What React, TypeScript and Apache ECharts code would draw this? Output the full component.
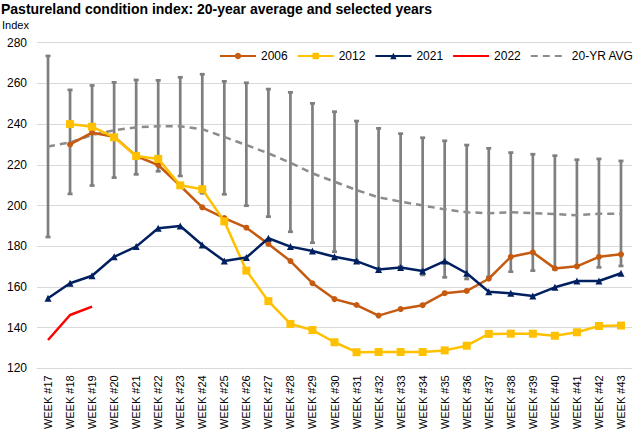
import React, { useEffect, useRef } from "react";
import * as echarts from "echarts";

const weeks = [
  "WEEK #17", "WEEK #18", "WEEK #19", "WEEK #20", "WEEK #21", "WEEK #22", "WEEK #23",
  "WEEK #24", "WEEK #25", "WEEK #26", "WEEK #27", "WEEK #28", "WEEK #29", "WEEK #30",
  "WEEK #31", "WEEK #32", "WEEK #33", "WEEK #34", "WEEK #35", "WEEK #36", "WEEK #37",
  "WEEK #38", "WEEK #39", "WEEK #40", "WEEK #41", "WEEK #42", "WEEK #43",
];

const avg20 = [229, 231, 234.6, 237, 238.4, 239, 238.9, 237.5, 233.7, 229.7, 225.6, 221, 215.8, 211.7, 207.6, 204, 201.9, 200, 198.1, 196.7, 196.2, 196.7, 196.3, 195.8, 195.2, 196, 196];
const rangeHigh = [273.5, 256.8, 259, 260.5, 261.7, 261.5, 263, 264.5, 261, 260.3, 257.2, 255.6, 250.2, 246.1, 241.5, 237.9, 235.3, 233.3, 231.8, 229.7, 228.1, 226, 225.2, 224.5, 222.5, 222.9, 221.9];
const rangeLow = [184.5, 205.7, 209.8, 213.7, 215.3, 216.8, 214.5, 206, 205.5, 199.9, 194.5, 187.1, 181.7, 177.3, 173, 169, 170, 165.9, 164.7, 163.9, 165, 167.5, 168, 168.6, 170.4, 169.6, 170.3];

const s2006 = [null, 230, 235.8, 233.8, 224.3, 219.9, 209.7, 199.1, 193.8, 189.1, 181.1, 172.7, 161.8, 154, 151.1, 145.9, 149.1, 151, 156.9, 158, 164, 174.8, 177, 169.1, 170.1, 174.8, 176];
const s2012 = [null, 240, 238.7, 233.5, 224.3, 222.9, 209.9, 208, 192.2, 168, 153, 141.8, 138.8, 132.8, 127.9, 128, 128, 128, 128.8, 131.1, 136.9, 137, 137, 136, 137.7, 140.8, 141];
const s2021 = [154.4, 161.8, 165.5, 174.8, 179.8, 188.8, 189.9, 180.6, 172.7, 174.4, 183.9, 179.8, 177.6, 174.8, 172.7, 168.6, 169.5, 167.8, 172.7, 166.7, 157.6, 156.9, 155.5, 159.8, 162.9, 162.9, 166.7];
const s2022 = [133.9, 146.2, 150.3];

const yMin = 120;
const yMax = 280;
const yStep = 20;

const FONT = "'Liberation Sans', Arial, sans-serif";

export default function App() {
  const ref = useRef<HTMLDivElement>(null);

  useEffect(() => {
    if (!ref.current) return;
    const chart = echarts.init(ref.current, null, { renderer: "svg" });
    const errData = weeks.map((_, i) => [i, rangeLow[i], rangeHigh[i]]);
    chart.setOption({
      animation: false,
      textStyle: { fontFamily: FONT },
      title: [
        {
          text: "Pastureland condition index: 20-year average and selected years",
          left: 1,
          top: 0,
          padding: [2, 0, 0, 0],
          textStyle: { fontSize: 14, fontWeight: "bold", color: "#000", fontFamily: FONT },
        },
        {
          text: "Index",
          left: 2,
          top: 19,
          padding: 0,
          textStyle: { fontSize: 11, fontWeight: "normal", color: "#000", fontFamily: FONT },
        },
      ],
      legend: {
        data: [
          { name: "2006" },
          { name: "2012" },
          { name: "2021" },
          { name: "2022", itemStyle: { opacity: 0 } },
          { name: "20-YR AVG", itemStyle: { opacity: 0 } },
        ],
        left: 219,
        top: 50,
        width: 420,
        padding: 0,
        itemWidth: 36,
        itemHeight: 8,
        itemGap: 9,
        textStyle: { fontSize: 12, color: "#000", fontFamily: FONT },
      },
      grid: { left: 37, right: 6, top: 42.7, bottom: 74.7, containLabel: false },
      xAxis: {
        type: "category",
        data: weeks,
        boundaryGap: true,
        axisLine: { show: true, lineStyle: { color: "#D9D9D9", width: 1 } },
        axisTick: { show: false },
        axisLabel: { rotate: 90, fontSize: 11, color: "#000", margin: 7, interval: 0, fontFamily: FONT },
      },
      yAxis: {
        type: "value",
        min: yMin,
        max: yMax,
        interval: yStep,
        axisLine: { show: false },
        axisTick: { show: false },
        axisLabel: { fontSize: 12, color: "#000", margin: 10, fontFamily: FONT },
        splitLine: { lineStyle: { color: "#D9D9D9", width: 1 } },
      },
      series: [
        {
          name: "range",
          type: "custom",
          z: 1,
          data: errData,
          encode: { x: 0, y: [1, 2] },
          renderItem: (params: any, api: any) => {
            const i = api.value(0);
            const lo = api.coord([i, api.value(1)]);
            const hi = api.coord([i, api.value(2)]);
            const cw = 2.5;
            const style = { stroke: "#7F7F7F", lineWidth: 2.7 };
            return {
              type: "group",
              children: [
                { type: "line", shape: { x1: lo[0], y1: lo[1], x2: hi[0], y2: hi[1] }, style },
                { type: "line", shape: { x1: hi[0] - cw, y1: hi[1], x2: hi[0] + cw, y2: hi[1] }, style },
                { type: "line", shape: { x1: lo[0] - cw, y1: lo[1], x2: lo[0] + cw, y2: lo[1] }, style },
              ],
            };
          },
        },
        {
          name: "20-YR AVG",
          type: "line",
          z: 2,
          data: avg20,
          symbol: "none",
          lineStyle: { color: "#8C8C8C", width: 2.5, type: [7, 5] },
          itemStyle: { color: "#8C8C8C" },
        },
        {
          name: "2006",
          type: "line",
          z: 3,
          data: s2006,
          symbol: "circle",
          symbolSize: 6,
          lineStyle: { color: "#C55A11", width: 2.5 },
          itemStyle: { color: "#C55A11" },
        },
        {
          name: "2012",
          type: "line",
          z: 4,
          data: s2012,
          symbol: "rect",
          symbolSize: 8,
          lineStyle: { color: "#FFC000", width: 2.5 },
          itemStyle: { color: "#FFC000" },
        },
        {
          name: "2021",
          type: "line",
          z: 5,
          data: s2021,
          symbol: "triangle",
          symbolSize: 7,
          lineStyle: { color: "#002060", width: 2.5 },
          itemStyle: { color: "#002060" },
        },
        {
          name: "2022",
          type: "line",
          z: 6,
          data: s2022,
          symbol: "none",
          lineStyle: { color: "#FF0000", width: 2.5 },
          itemStyle: { color: "#FF0000" },
        },
      ],
    });
    return () => chart.dispose();
  }, []);

  return (
    <div
      ref={ref}
      style={{ position: "fixed", left: 0, top: 0, width: 638, height: 443, background: "#fff" }}
    />
  );
}
